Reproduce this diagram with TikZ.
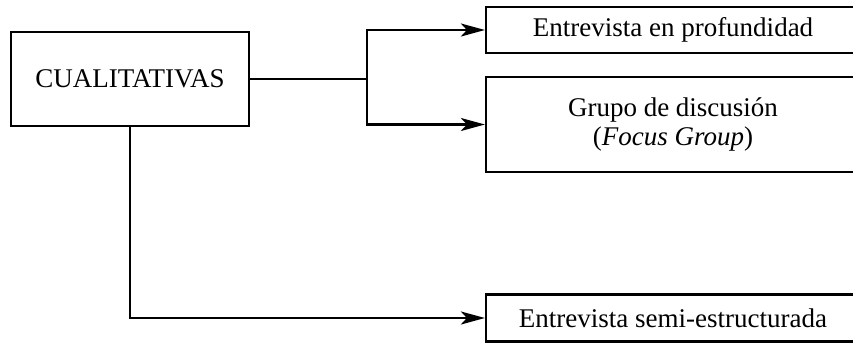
\documentclass[tikz,border=0pt]{standalone}
\usepackage{fontspec}
\setmainfont{Liberation Serif}
\usepackage{tikz}
\usetikzlibrary{arrows.meta}

\begin{document}
\begin{tikzpicture}[x=0.5pt,y=-0.5pt,
        caja/.style={draw, line width=1.1pt, align=center, inner sep=0pt, font=\fontsize{13.5}{14.5}\selectfont},
        flecha/.style={line width=1.1pt, -{Stealth[length=12pt,width=6.5pt,inset=3pt]}}]
        \useasboundingbox (0,0) rectangle (853,343);
        \node[caja, minimum width=119pt, minimum height=47pt] (cual) at (130,79) {CUALITATIVAS};
        \node[caja, minimum width=187pt, minimum height=23pt] (prof) at (673,30) {Entrevista en profundidad};
        \node[caja, minimum width=187pt, minimum height=47.5pt] (grupo) at (673,124.5) {Grupo de discusión\\(\textit{Focus Group})};
        \node[caja, minimum width=187pt, minimum height=23.5pt] (semi) at (673,318) {Entrevista semi-estructurada};
        \coordinate (rama) at (367,79);
        \draw[line width=1.1pt] (cual.east) -- (rama);
        \draw[flecha] (rama) |- (prof.west);
        \draw[flecha] (rama) |- (grupo.west);
        \draw[flecha] (cual.south) |- (semi.west);
    \end{tikzpicture}
\end{document}
